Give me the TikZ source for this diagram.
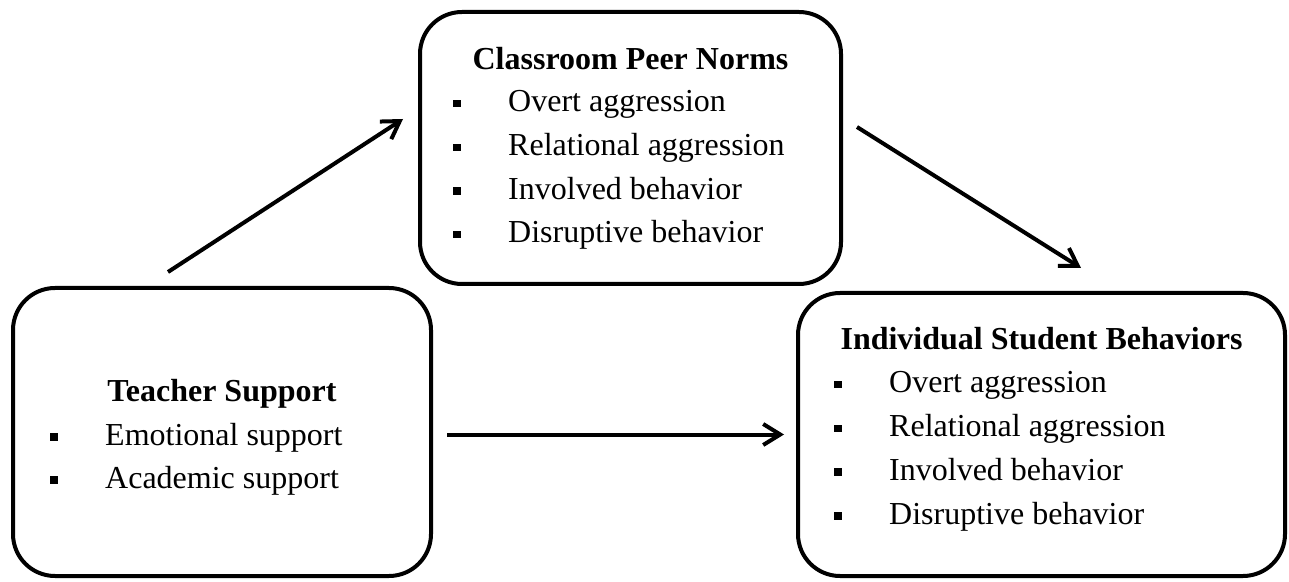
\documentclass[tikz,border=0pt]{standalone}
\usepackage{fontspec}
\setmainfont{Liberation Serif}
\usetikzlibrary{arrows.meta,calc}

% one bulleted line: name, x of text start, baseline y, text
\newcommand{\listitem}[4]{%
  \node[itemtext] (#1) at (#2,#3) {#4};
  \fill ($(#1.base west)+(-55,4.5)$) rectangle ++(7.5,7.5);
}

\tikzset{
  box/.style={draw=black, line width=4pt, rounded corners=42pt, fill=white,
    inner sep=0pt, outer sep=0pt},
  boxtitle/.style={anchor=base, inner sep=0pt,
    font=\fontsize{32}{38}\selectfont\bfseries},
  itemtext/.style={anchor=base west, inner sep=0pt,
    font=\fontsize{32}{38}\selectfont},
  link/.style={line width=4pt,
    -{Straight Barb[length=17pt,width=21pt,line width=4pt]}},
}

\begin{document}
\begin{tikzpicture}[x=1pt,y=1pt]
  \useasboundingbox[fill=white] (0,0) rectangle (1289,581);

  % boxes
  \node[box, minimum width=421pt, minimum height=272pt] (cpn) at (630.5,433) {};
  \node[box, minimum width=418pt, minimum height=288pt] (ts) at (222,149) {};
  \node[box, minimum width=487pt, minimum height=283pt] (isb) at (1041.5,146.5) {};

  % Classroom Peer Norms
  \node[boxtitle] (cpnt) at (630.5,511) {Classroom Peer Norms};
  \listitem{cpn1}{508}{469}{Overt aggression}
  \listitem{cpn2}{508}{425.3}{Relational aggression}
  \listitem{cpn3}{508}{381.6}{Involved behavior}
  \listitem{cpn4}{508}{338}{Disruptive behavior}

  % Teacher Support
  \node[boxtitle] (tst) at (222,179) {Teacher Support};
  \listitem{ts1}{105}{136}{Emotional support}
  \listitem{ts2}{105}{93}{Academic support}

  % Individual Student Behaviors
  \node[boxtitle] (isbt) at (1041.5,231) {Individual Student Behaviors};
  \listitem{isb1}{889}{188}{Overt aggression}
  \listitem{isb2}{889}{144.3}{Relational aggression}
  \listitem{isb3}{889}{100.6}{Involved behavior}
  \listitem{isb4}{889}{57}{Disruptive behavior}

  % paths between the constructs
  \coordinate (a1s) at (168,309);
  \coordinate (a1e) at (403,462);
  \coordinate (a2s) at (857,454);
  \coordinate (a2e) at (1081,313);
  \draw[link] (a1s) -- (a1e);
  \draw[link] (a2s) -- (a2e);
  \draw[link, shorten <=16pt, shorten >=14pt] (ts.east |- isb.west) -- (isb.west);
\end{tikzpicture}
\end{document}
